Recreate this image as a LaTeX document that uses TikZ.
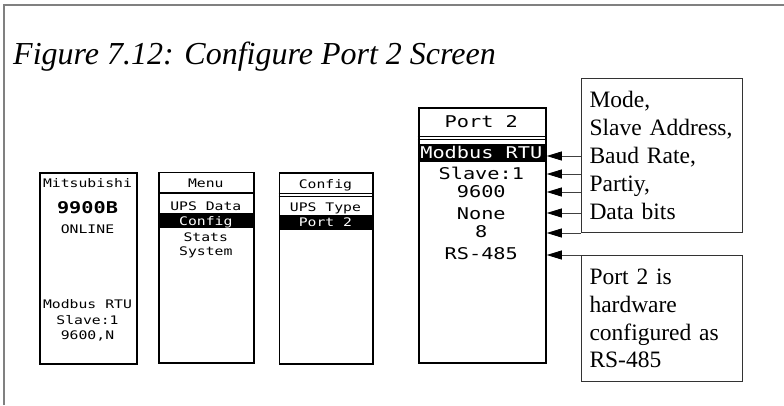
\documentclass[tikz,border=0pt]{standalone}
\usepackage{fontspec}
\setmainfont{Liberation Serif}
\newfontfamily\lcdfont[FakeStretch=1.25]{DejaVu Sans Mono}
\usetikzlibrary{arrows.meta}
\newcommand\lcdsmall{\fontsize{11.8}{12}\lcdfont}
\newcommand\lcdlarge{\fontsize{16.2}{17}\lcdfont}
\newcommand\notefont{\fontsize{23.5}{27.8}\selectfont}
\begin{document}
\begin{tikzpicture}[x=1pt,y=-1pt,
  screen/.style={draw=black, line width=1.8pt, fill=white, rectangle, inner sep=0pt, anchor=north west},
  note/.style={draw=black!80, line width=1pt, rectangle, anchor=north west, inner xsep=8pt, inner ysep=0pt,
    align=left, text width=144.7pt, minimum width=160.7pt, font=\notefont},
  lcds/.style={font=\lcdsmall, anchor=base, inner sep=0pt},
  lcdl/.style={font=\lcdlarge, anchor=base, inner sep=0pt},
  lcdb/.style={font=\lcdlarge\bfseries, anchor=base, inner sep=0pt},
  inv/.style={text=white},
  bar/.style={fill=black},
  sep/.style={draw=black, line width=1.2pt},
  arr/.style={draw=black!75, line width=0.9pt, -{Triangle[length=15pt,width=9pt,color=black,fill=black]}},
  frameline/.style={draw=black!50, line width=2pt}
]
\useasboundingbox (0,0) rectangle (784,405);
\draw[frameline] (4,405) -- (4,5) -- (784,5);

\node[anchor=base west, inner sep=0pt, font=\fontsize{32}{36}\selectfont\itshape] (title) at (13,64) {Figure 7.12: Configure Port 2 Screen};

% screen 1
\node[screen, minimum width=96.4pt, minimum height=191pt] (s1) at (39.3,171.7) {};
\node[lcds] (s1a) at (87.5,187.3) {Mitsubishi};
\node[lcdb] (s1b) at (87.5,213.4) {9900B};
\node[lcds] (s1c) at (87.5,233.3) {ONLINE};
\node[lcds] (s1d) at (87.5,308.3) {Modbus RTU};
\node[lcds] (s1e) at (87.5,324.3) {Slave:1};
\node[lcds] (s1f) at (87.5,339.3) {9600,N};

% menu screen
\node[screen, minimum width=95pt, minimum height=190.3pt] (s2) at (158.3,171.5) {};
\draw[sep] (158.3,193) -- (253.3,193);
\fill[bar] (158.3,212.7) rectangle (253.3,228.3);
\node[lcds] (s2a) at (205.8,187.3) {Menu};
\node[lcds] (s2b) at (205.8,210.3) {UPS Data};
\node[lcds, inv] (s2c) at (205.8,225.3) {Config};
\node[lcds] (s2d) at (205.8,241) {Stats};
\node[lcds] (s2e) at (205.8,255.3) {System};

% config screen
\node[screen, minimum width=93.8pt, minimum height=190.7pt] (s3) at (278.5,172) {};
\draw[sep] (278.5,193.3) -- (372.3,193.3);
\draw[sep] (278.5,196.3) -- (372.3,196.3);
\fill[bar] (278.5,214.5) rectangle (372.3,229.5);
\node[lcds] (s3a) at (325.4,188.3) {Config};
\node[lcds] (s3b) at (325.4,211.3) {UPS Type};
\node[lcds, inv] (s3c) at (325.4,226.3) {Port 2};

% port 2 screen
\node[screen, minimum width=127.3pt, minimum height=255pt] (p2) at (417.7,106.7) {};
\draw[sep] (417.7,136.7) -- (545,136.7);
\draw[sep] (417.7,139.7) -- (545,139.7);
\fill[bar] (417.7,143.5) rectangle (545,161.5);
\node[lcdl] (p2h) at (481.3,127.6) {Port 2};
\node[lcdl, inv] (p2a) at (481.3,158.4) {Modbus RTU};
\node[lcdl] (p2b) at (481.3,179.9) {Slave:1};
\node[lcdl] (p2c) at (481.3,197.4) {9600};
\node[lcdl] (p2d) at (481.3,219.4) {None};
\node[lcdl] (p2e) at (481.3,237.9) {8};
\node[lcdl] (p2f) at (481.3,259.9) {RS-485};

% notes
\node[note, minimum height=154pt] (n1) at (581,78) {Mode,\\Slave Address,\\Baud Rate,\\Partiy,\\Data bits};
\node[note, minimum height=126pt] (n2) at (581,255) {Port 2 is\\hardware\\configured as\\RS-485};

% arrows
\coordinate (r1) at (545,156);
\coordinate (r2) at (545,174);
\coordinate (r3) at (545,192);
\coordinate (r4) at (545,213);
\draw[arr] (n1.west |- r1) -- (p2.east |- r1);
\draw[arr] (n1.west |- r2) -- (p2.east |- r2);
\draw[arr] (n1.west |- r3) -- (p2.east |- r3);
\draw[arr] (n1.west |- r4) -- (p2.east |- r4);
\draw[arr] (n1.south west) -- (p2.east |- n1.south west);
\draw[arr] (n2.north west) -- (p2.east |- n2.north west);
\end{tikzpicture}
\end{document}
